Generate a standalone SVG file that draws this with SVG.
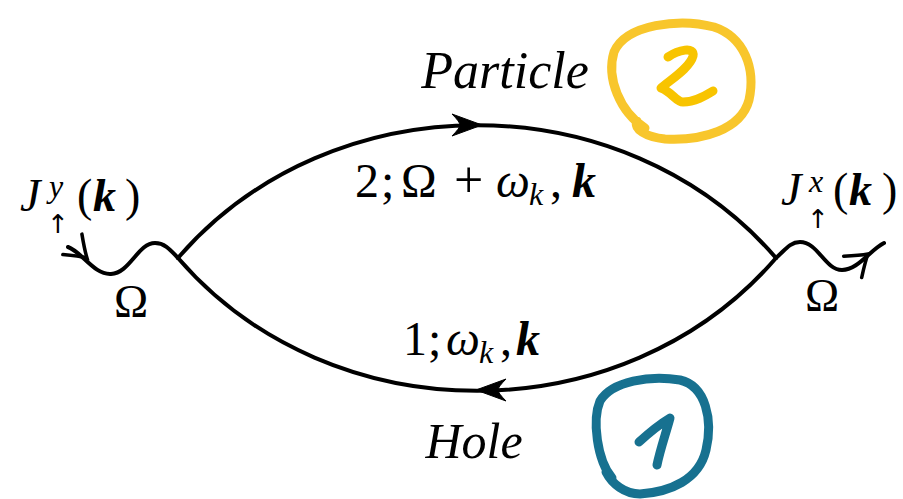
<svg xmlns="http://www.w3.org/2000/svg" width="903" height="499" viewBox="0 0 903 499">
<style>
.ln{fill:none;stroke:#000;stroke-width:4;stroke-linecap:round;stroke-linejoin:round}
.to{fill:none;stroke:#000;stroke-width:3.5;stroke-linecap:round}
.t{font-family:"Liberation Serif","DejaVu Serif",serif;fill:#000}
.ar{font-family:"DejaVu Sans","Liberation Sans",sans-serif;fill:#000;font-weight:normal}
.it{font-style:italic}
.bi{font-style:italic;font-weight:bold}
.hand{fill:none;stroke-width:9;stroke-linecap:round;stroke-linejoin:round}
</style>
<defs>
<path id="stealth" d="M0,0 L-30,-11 Q-22,-3 -22,0 Q-22,3 -30,11 Z" fill="#000" stroke="#000" stroke-width="1" stroke-linejoin="round"/>
<path id="toarrow" d="M-20,-14 Q-7,-4 0,0 Q-7,4 -20,14" class="to"/>
</defs>
<rect width="903" height="499" fill="#fff"/>
<g id="connectors">
<path id="particle-line" class="ln" d="M178,258 C331,81 623,81 776,258"/>
<path id="hole-line" class="ln" d="M776,258 C623,435 331,435 178,258"/>
<use href="#stealth" transform="translate(482,125)"/>
<use href="#stealth" transform="translate(476,390) rotate(180)"/>
<path id="wave-in" class="ln" d="M68,247 C82,252 94,275 111,274 C130,273 138,243 155,243 C166,243 172,252 178,258"/>
<use href="#toarrow" transform="translate(87,258) rotate(43)"/>
<path id="wave-out" class="ln" d="M776,258 C785,250 790,242 800,242 C818,242 825,270 842,270 C858,270 870,250 884,243"/>
<use href="#toarrow" transform="translate(868,254) rotate(-40)"/>
</g>
<g id="label-left">
<text class="t it" x="20" y="211" font-size="46">J</text>
<text class="t it" x="49" y="197" font-size="32">y</text>
<text class="ar" x="47" y="233" font-size="26">↑</text>
<text class="t" y="211" font-size="46"><tspan x="77">(</tspan><tspan class="bi" x="93">k</tspan><tspan x="125">)</tspan></text>
<text class="t" x="131" y="317" font-size="46" text-anchor="middle">Ω</text>
</g>
<g id="label-right">
<text class="t it" x="781" y="205" font-size="46">J</text>
<text class="t it" x="809" y="192" font-size="32">x</text>
<text class="ar" x="807" y="228" font-size="26">↑</text>
<text class="t" y="205" font-size="46"><tspan x="833">(</tspan><tspan class="bi" x="849">k</tspan><tspan x="882">)</tspan></text>
<text class="t" x="822" y="311" font-size="46" text-anchor="middle">Ω</text>
</g>
<g id="particle">
<text class="t it" x="505" y="88" font-size="52" text-anchor="middle">Particle</text>
<text class="t" y="197" font-size="48"><tspan x="355">2</tspan><tspan x="381">;</tspan><tspan x="401">Ω</tspan><tspan x="454" font-size="52">+</tspan><tspan class="it" x="496">ω</tspan><tspan class="it" x="529" dy="8" font-size="32">k</tspan><tspan x="550" dy="-8">,</tspan><tspan class="bi" x="572">k</tspan></text>
</g>
<g id="hole">
<text class="t it" x="474" y="458" font-size="50" text-anchor="middle">Hole</text>
<text class="t" y="355" font-size="48"><tspan x="403">1</tspan><tspan x="428">;</tspan><tspan class="it" x="446">ω</tspan><tspan class="it" x="479" dy="8" font-size="32">k</tspan><tspan x="500" dy="-8">,</tspan><tspan class="bi" x="516">k</tspan></text>
</g>
<g id="badge-2">
<path class="hand" stroke="#f8c62c" d="M645,128 C620,112 606,78 614,52 C626,24 680,18 714,27 C744,37 756,68 749,100 C741,130 702,141 665,139 C646,137 633,129 637,121"/>
<path class="hand" stroke="#f8c400" d="M668,57 C678,50 695,46 693,56 C690,68 670,80 661,88 C672,92 676,102 683,102 C695,102 705,96 713,91"/>
</g>
<g id="badge-1">
<path class="hand" stroke="#177190" d="M612,478 C597,460 592,420 600,401 C612,381 650,375 680,380 C706,386 713,420 706,450 C699,480 670,492 640,494 C625,494 612,484 606,472"/>
<path class="hand" stroke="#177190" d="M639,442 C650,432 660,424 670,418 C666,433 660,450 657,465"/>
</g>
</svg>
